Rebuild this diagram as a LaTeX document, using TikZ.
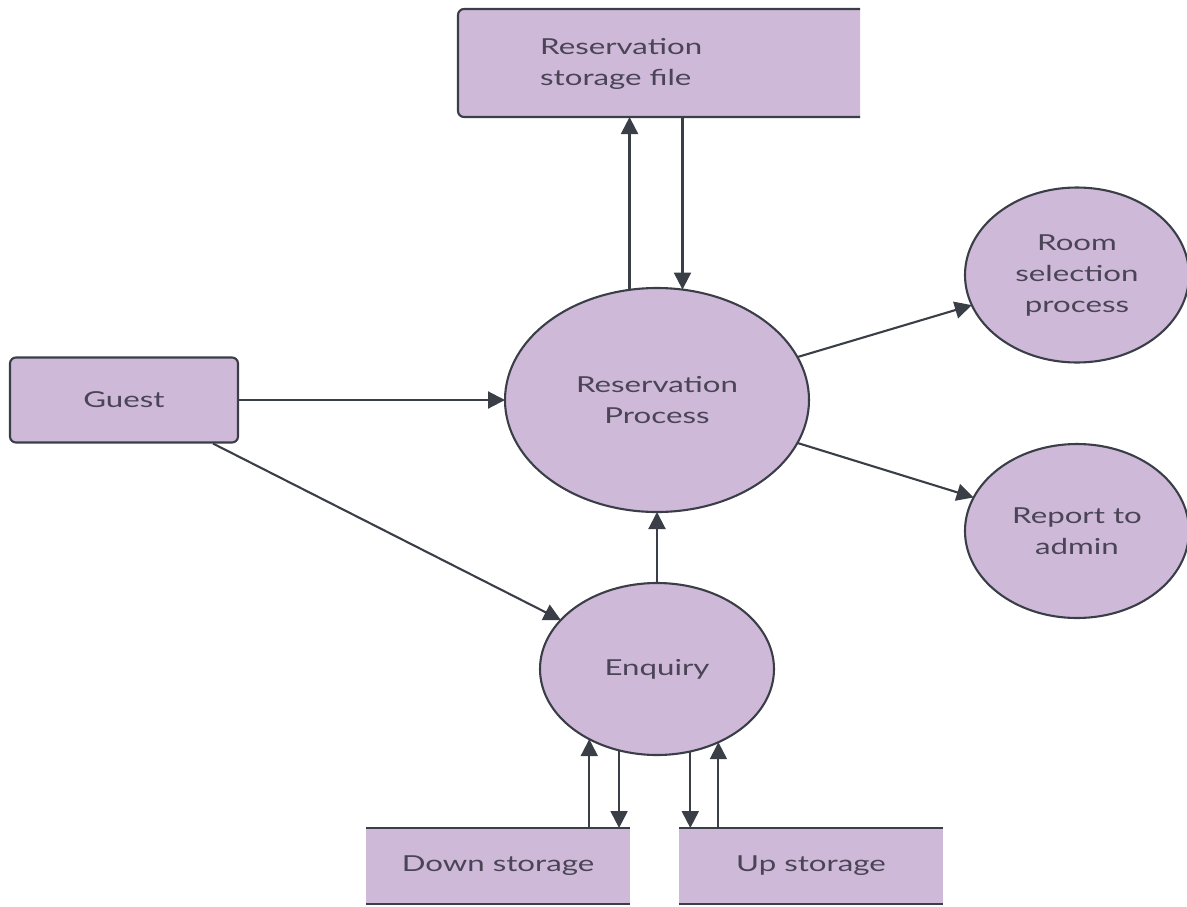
\documentclass[tikz,border=0pt]{standalone}
\usepackage{fontspec}
\setmainfont{Lato}[FakeStretch=1.42]
\usetikzlibrary{arrows.meta,shapes.geometric}
\definecolor{pfill}{RGB}{206,185,217}
\definecolor{pline}{RGB}{58,62,71}
\definecolor{ptext}{RGB}{74,68,86}
\begin{document}
\begin{tikzpicture}[x=1pt,y=-1pt,
  every node/.style={font=\fontsize{22}{31}\selectfont, text=ptext},
  proc/.style={ellipse, fill=pfill, draw=pline, line width=2.1pt, inner sep=0pt, outer sep=0pt, align=center},
  shapebox/.style={inner sep=0pt, outer sep=0pt},
  storefill/.style={fill=pfill, inner sep=0pt, outer sep=0pt},
  edge/.style={draw=pline, line width=2.1pt},
  arr/.style={draw=pline, line width=2.1pt, -{Triangle[length=17pt,width=17pt]}}]
\useasboundingbox (0,0) rectangle (1187,906);

% top storage file (open on the right)
\node[shapebox, minimum width=402pt, minimum height=108pt] (rsf) at (659,63) {};
\draw[edge, fill=pfill, rounded corners=6pt] (rsf.north east) -- (rsf.north west) -- (rsf.south west) -- (rsf.south east);
\node[anchor=west, align=left, inner sep=0pt] (rsftext) at (540,64) {Reservation\\storage file};

% guest
\node[draw=pline, fill=pfill, line width=2.1pt, rounded corners=6pt, minimum width=228pt, minimum height=85pt, inner sep=0pt] (guest) at (124,400) {Guest};

% processes
\node[proc, minimum width=304pt, minimum height=224pt] (res) at (657,400) {Reservation\\Process};
\node[proc, minimum width=234pt, minimum height=172pt] (enq) at (657,669) {Enquiry};
\node[proc, minimum width=224pt, minimum height=175pt] (room) at (1077,275) {Room\\selection\\process};
\node[proc, minimum width=224pt, minimum height=174pt] (rep) at (1077,531) {Report to\\admin};

% bottom storages
\node[storefill, minimum width=264pt, minimum height=76pt] (ds) at (498,866) {Down storage};
\draw[edge] (ds.north west) -- (ds.north east);
\draw[edge] (ds.south west) -- (ds.south east);
\node[storefill, minimum width=264pt, minimum height=76pt] (us) at (811,866) {Up storage};
\draw[edge] (us.north west) -- (us.north east);
\draw[edge] (us.south west) -- (us.south east);

% connectors
\draw[arr] (guest) -- (res);
\draw[arr] ([xshift=-26pt]guest.south east) -- (enq.153);
\draw[arr] (enq.north) -- (res.south);
\draw[arr] (res.17) -- (room.196);
\draw[arr] (res.-17) -- (rep.162);
\draw[arr] (res.104) -- (res.104 |- rsf.south);
\draw[arr] (res.77 |- rsf.south) -- (res.77);
\draw[arr] (enq.226 |- ds.north) -- (enq.226);
\draw[arr] (enq.245) -- (enq.245 |- ds.north);
\draw[arr] (enq.292) -- (enq.292 |- us.north);
\draw[arr] (enq.310 |- us.north) -- (enq.310);
\end{tikzpicture}
\end{document}
